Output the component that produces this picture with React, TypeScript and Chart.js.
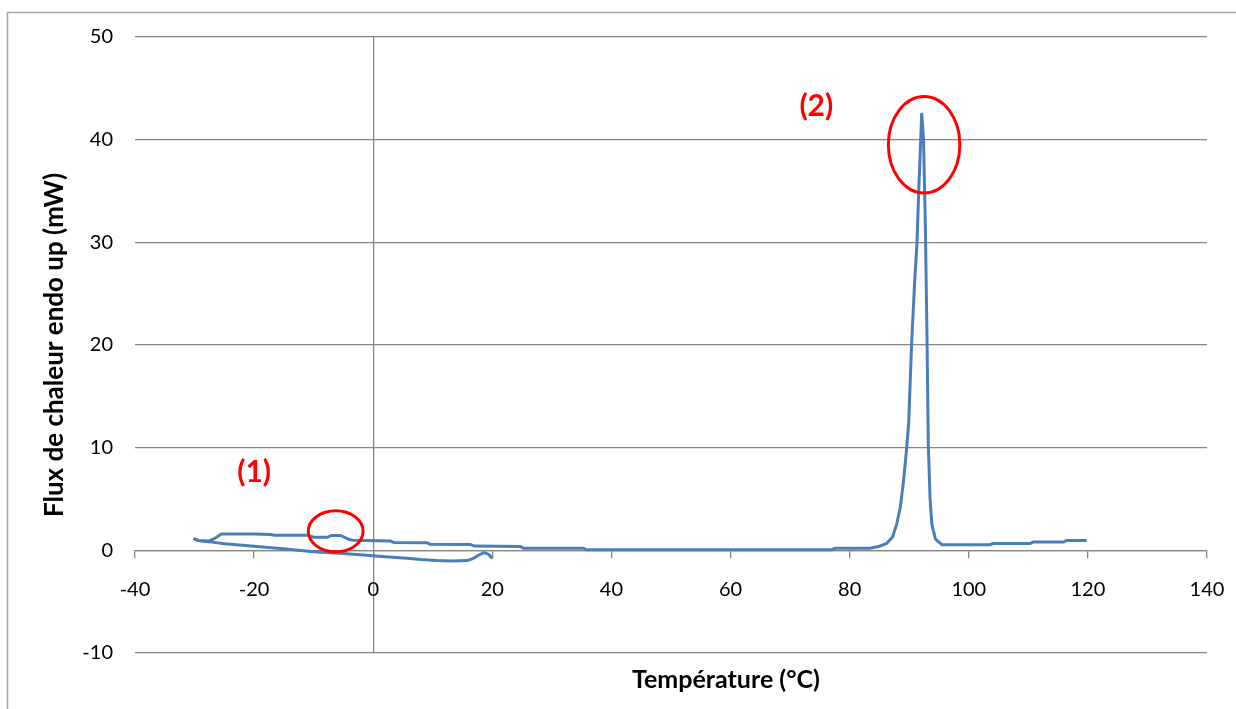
import React, { useEffect, useRef } from "react";
import { Chart, registerables } from "chart.js";

Chart.register(...registerables);

// DSC curve: cooling branch (20 → -30 °C) then heating branch (-30 → 120 °C)
const temperature: number[] = [
  20.0, 19.4, 18.6, 17.6, 16.8, 15.8, 13.0, 10.7, 8.0, 5.7, 2.0, -1.7, -5.0, -10.0,
  -15.6, -21.0, -25.0, -27.0, -29.0, -30.2, -29.5, -27.5, -26.5, -25.5,
  -20.0, -17.3, -16.5, -11.0, -10.0, -7.7, -7.0, -5.5, -4.0, -3.4, 2.9, 3.5, 9.0, 9.5,
  16.3, 17.0, 24.7, 25.2, 35.3, 35.8, 77.0, 77.5, 83.4, 85.0, 86.2, 87.2, 87.9, 88.5,
  89.0, 89.5, 89.9, 90.4, 90.9, 91.3, 91.6, 92.1, 92.4, 92.7, 93.0, 93.2, 93.5, 93.8,
  94.4, 95.5, 103.6, 104.0, 110.3, 110.8, 115.9, 116.4, 119.8,
];
const heatFlow: number[] = [
  -0.8, -0.4, -0.23, -0.5, -0.78, -1.0, -1.05, -1.0, -0.9, -0.78, -0.62, -0.46, -0.32, -0.14,
  0.19, 0.45, 0.65, 0.8, 0.9, 1.15, 0.95, 0.92, 1.2, 1.58,
  1.58, 1.55, 1.46, 1.46, 1.27, 1.27, 1.45, 1.45, 1.05, 0.98, 0.9, 0.76, 0.74, 0.6,
  0.58, 0.42, 0.37, 0.21, 0.21, 0.05, 0.05, 0.2, 0.2, 0.4, 0.67, 1.3, 2.55, 4.2,
  6.5, 9.5, 12.3, 20.1, 26.0, 29.9, 35.1, 42.6, 40.0, 31.9, 20.1, 10.4, 5.0, 2.55,
  1.1, 0.55, 0.55, 0.66, 0.66, 0.8, 0.8, 0.96, 0.96,
];

const xRange = [-40, 140];
const yRange = [-10, 50];
const xStep = 20;
const yStep = 10;

const xTitle = "Température (°C)";
const yTitle = "Flux de chaleur endo up (mW)";

// annotation labels and highlighted zones (data coordinates)
const noteLabels = ["(1)", "(2)"];
const noteLabelX = [-20.0, 74.4];
const noteLabelY = [7.6, 43.2];
const ellipseCx = [-6.3, 92.5];
const ellipseCy = [1.85, 39.5];
const ellipseRx = [4.6, 6.0];
const ellipseRy = [2.0, 4.7];

const GRID = "#868686";
const LINE = "#4a7ebb";
const FONT = "Lato, 'Open Sans', sans-serif";

export default function App() {
  const ref = useRef<HTMLCanvasElement | null>(null);

  useEffect(() => {
    if (!ref.current) return;
    const points = temperature.map((t, i) => ({ x: t, y: heatFlow[i] }));

    const overlay = {
      id: "overlay",
      beforeDraw(chart: any) {
        const ctx = chart.ctx;
        ctx.save();
        ctx.fillStyle = "#ffffff";
        ctx.fillRect(0, 0, chart.width, chart.height);
        ctx.strokeStyle = "#a6a6a6";
        ctx.lineWidth = 1.5;
        ctx.strokeRect(7.5, 12.5, chart.width + 50, chart.height + 50);
        ctx.restore();
      },
      afterDatasetsDraw(chart: any) {
        const ctx = chart.ctx;
        const xs = chart.scales.x;
        const ys = chart.scales.y;
        ctx.save();
        ctx.strokeStyle = "#ff0000";
        ctx.lineWidth = 3;
        for (let i = 0; i < ellipseCx.length; i++) {
          const cx = xs.getPixelForValue(ellipseCx[i]);
          const cy = ys.getPixelForValue(ellipseCy[i]);
          const rx = Math.abs(xs.getPixelForValue(ellipseCx[i] + ellipseRx[i]) - cx);
          const ry = Math.abs(ys.getPixelForValue(ellipseCy[i] + ellipseRy[i]) - cy);
          ctx.beginPath();
          ctx.ellipse(cx, cy, rx, ry, 0, 0, Math.PI * 2);
          ctx.stroke();
        }
        ctx.fillStyle = "#ff0000";
        ctx.font = `bold 30px ${FONT}`;
        ctx.textAlign = "center";
        ctx.textBaseline = "middle";
        for (let i = 0; i < noteLabels.length; i++) {
          ctx.fillText(noteLabels[i], xs.getPixelForValue(noteLabelX[i]), ys.getPixelForValue(noteLabelY[i]));
        }
        ctx.fillStyle = "#000000";
        ctx.font = `bold 25px ${FONT}`;
        ctx.fillText(xTitle, 726, 680);
        ctx.restore();
      },
    };

    const chart = new Chart(ref.current, {
      type: "scatter",
      data: {
        datasets: [
          {
            data: points,
            showLine: true,
            borderColor: LINE,
            backgroundColor: LINE,
            borderWidth: 3,
            pointRadius: 0,
            tension: 0,
          },
        ],
      },
      options: {
        responsive: false,
        animation: false,
        layout: { padding: { left: 35, top: 37, right: 29, bottom: 56 } },
        plugins: { legend: { display: false }, tooltip: { enabled: false } },
        scales: {
          x: {
            type: "linear",
            position: { y: 0 } as any,
            min: xRange[0],
            max: xRange[1],
            afterFit: (s: any) => {
              s.paddingLeft = 0;
              s.paddingRight = 0;
            },
            ticks: { stepSize: xStep, padding: 20, color: "#000", font: { family: FONT, size: 20 } },
            grid: {
              color: (c: any) => (c.tick && c.tick.value === 0 ? GRID : "rgba(0,0,0,0)"),
              tickColor: GRID,
              tickLength: 7,
              lineWidth: 1.3,
            },
            border: { display: true, color: GRID, width: 1.3 },
          },
          y: {
            type: "linear",
            min: yRange[0],
            max: yRange[1],
            afterFit: (s: any) => {
              s.width = 100;
            },
            ticks: { stepSize: yStep, padding: 22, color: "#000", font: { family: FONT, size: 20 } },
            grid: { color: GRID, drawTicks: false, lineWidth: 1.3 },
            border: { display: false },
            title: {
              display: true,
              text: yTitle,
              color: "#000",
              font: { family: FONT, size: 26, weight: "bold" },
              padding: { top: 4, bottom: 0 },
            },
          },
        },
      },
      plugins: [overlay],
    } as any);

    return () => chart.destroy();
  }, []);

  return (
    <div style={{ position: "absolute", left: 0, top: 0 }}>
      <canvas ref={ref} width={1236} height={709} />
    </div>
  );
}
